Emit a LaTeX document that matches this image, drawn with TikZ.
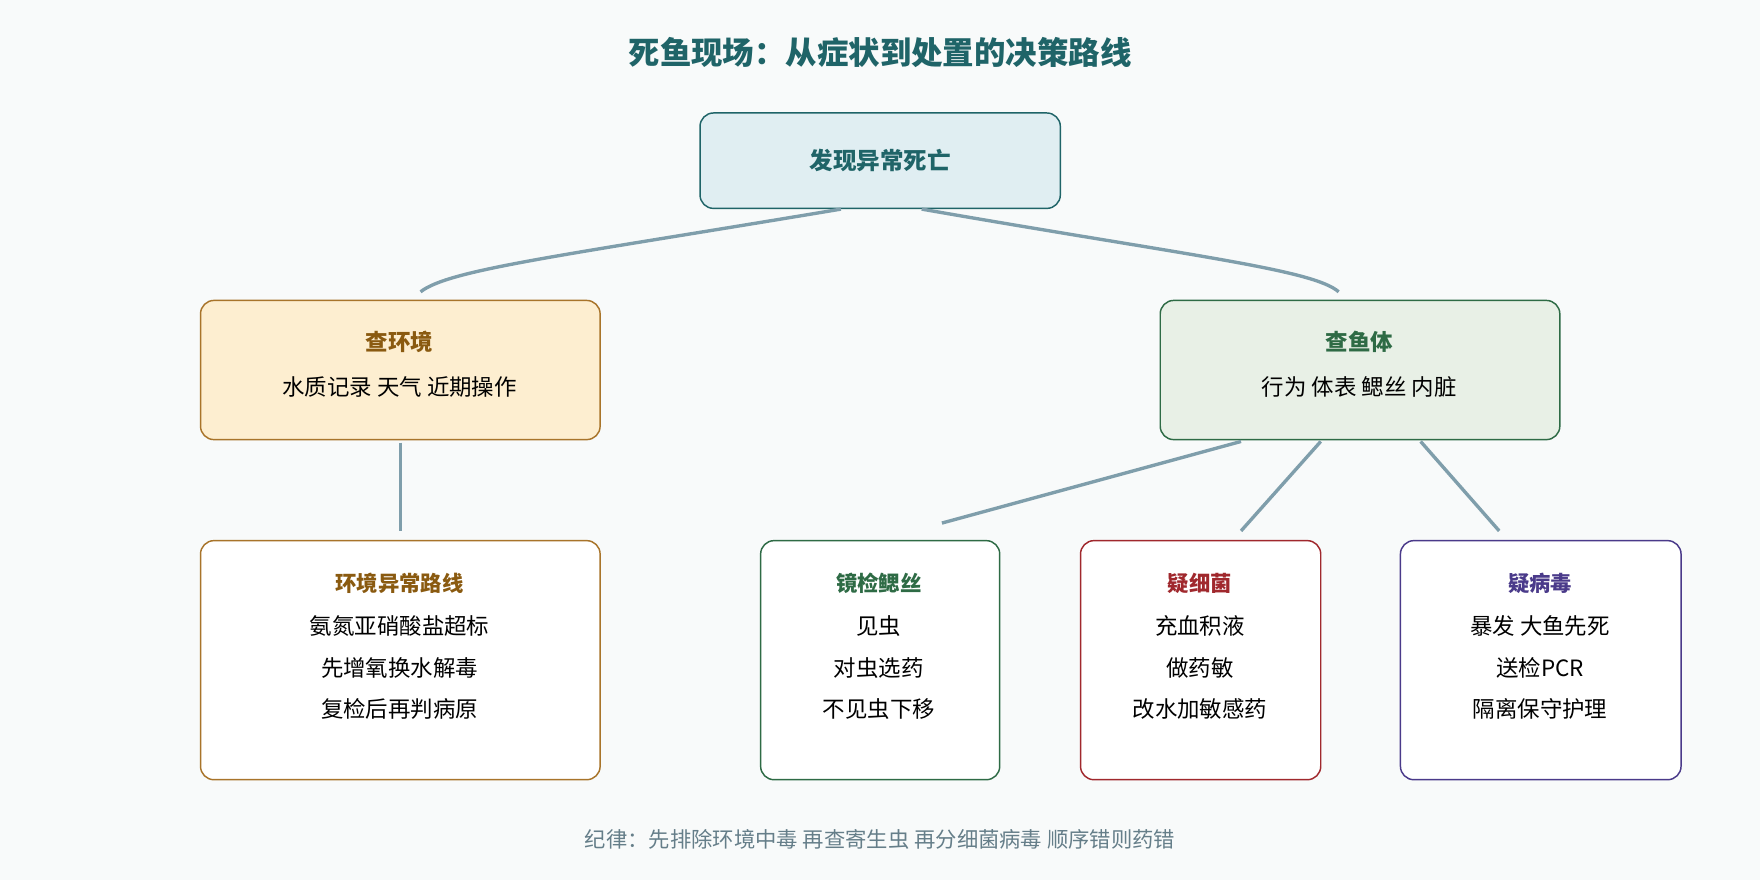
\documentclass[tikz,border=0pt]{standalone}
\usepackage{fontspec}
\setmainfont{Noto Sans CJK SC}
\usetikzlibrary{calc}
\definecolor{bg}{HTML}{F8FAFA}
\definecolor{teal}{HTML}{1F6468}
\definecolor{link}{HTML}{7F9EAB}
\definecolor{brn}{HTML}{A8742A}
\definecolor{brnt}{HTML}{8A5A10}
\definecolor{grn}{HTML}{2E6B45}
\definecolor{red}{HTML}{A0282D}
\definecolor{pur}{HTML}{4A3A8A}
\definecolor{topfill}{HTML}{E0EEF2}
\definecolor{envfill}{HTML}{FDEED0}
\definecolor{fishfill}{HTML}{E8F0E6}
\begin{document}
\begin{tikzpicture}[x=1pt,y=-1pt,
 box/.style={draw,line width=1.3pt,rounded corners=12pt,anchor=north west,inner sep=0pt},
 con/.style={draw=link,line width=3pt},
 tx/.style={font=\fontsize{20}{24}\selectfont,align=center}]
\fill[bg] (0,0) rectangle (1568,784);
\useasboundingbox (0,0) rectangle (1568,784);
\node[font=\fontsize{28}{32}\selectfont\bfseries,text=teal] (title) at (784,47) {死鱼现场：从症状到处置的决策路线};
\node[box,draw=teal,fill=topfill,minimum width=321pt,minimum height=85pt] (top) at (623,100) {};
\node[font=\fontsize{21}{24}\selectfont\bfseries,text=teal] at (top.center) {发现异常死亡};
\node[box,draw=brn,fill=envfill,minimum width=356pt,minimum height=124pt] (env) at (178,267) {};
\node[tx,text=brnt,font=\fontsize{20}{24}\selectfont\bfseries] at (356,305) {查环境};
\node[tx] at (356,345) {水质记录 天气 近期操作};
\node[box,draw=grn,fill=fishfill,minimum width=356pt,minimum height=124pt] (fish) at (1033,267) {};
\node[tx,text=grn,font=\fontsize{20}{24}\selectfont\bfseries] at (1211,305) {查鱼体};
\node[tx] at (1211,345) {行为 体表 鳃丝 内脏};
\node[box,draw=brn,fill=white,minimum width=356pt,minimum height=213pt] (envr) at (178,481) {};
\node[box,draw=grn,fill=white,minimum width=213pt,minimum height=213pt] (gill) at (677,481) {};
\node[box,draw=red,fill=white,minimum width=214pt,minimum height=213pt] (bac) at (962,481) {};
\node[box,draw=pur,fill=white,minimum width=250pt,minimum height=213pt] (vir) at (1247,481) {};
\foreach \n/\c/\x/\t/\a/\b/\d in {envr/brnt/356/环境异常路线/氨氮亚硝酸盐超标/先增氧换水解毒/复检后再判病原,
 gill/grn/783/镜检鳃丝/见虫/对虫选药/不见虫下移,
 bac/red/1069/疑细菌/充血积液/做药敏/改水加敏感药,
 vir/pur/1372/疑病毒/暴发 大鱼先死/送检PCR/隔离保守护理}{
 \node[text=\c,font=\fontsize{19}{22}\selectfont\bfseries] at (\x,520) {\t};
 \node[tx] at (\x,558) {\a};
 \node[tx] at (\x,595) {\b};
 \node[tx] at (\x,632) {\d};
}
\draw[con] ($(top.south)+(-35,0)$) .. controls (500,228) and (400,240) .. ($(env.north)+(18,-7)$);
\draw[con] ($(top.south)+(37,0)$) .. controls (1060,228) and (1170,240) .. ($(fish.north)+(-19,-7)$);
\draw[con] ($(env.south)+(0,2)$) -- ($(envr.north)+(0,-8)$);
\draw[con] ($(fish.south)+(-106,1)$) -- ($(gill.north)+(55,-15)$);
\draw[con] ($(fish.south)+(-35,1)$) -- ($(bac.north)+(36,-8)$);
\draw[con] ($(fish.south)+(54,1)$) -- ($(vir.north)+(-37,-8)$);
\node[font=\fontsize{19}{22}\selectfont,text=link!80!black] (foot) at (784,748) {纪律：先排除环境中毒 再查寄生虫 再分细菌病毒 顺序错则药错};
\end{tikzpicture}
\end{document}
